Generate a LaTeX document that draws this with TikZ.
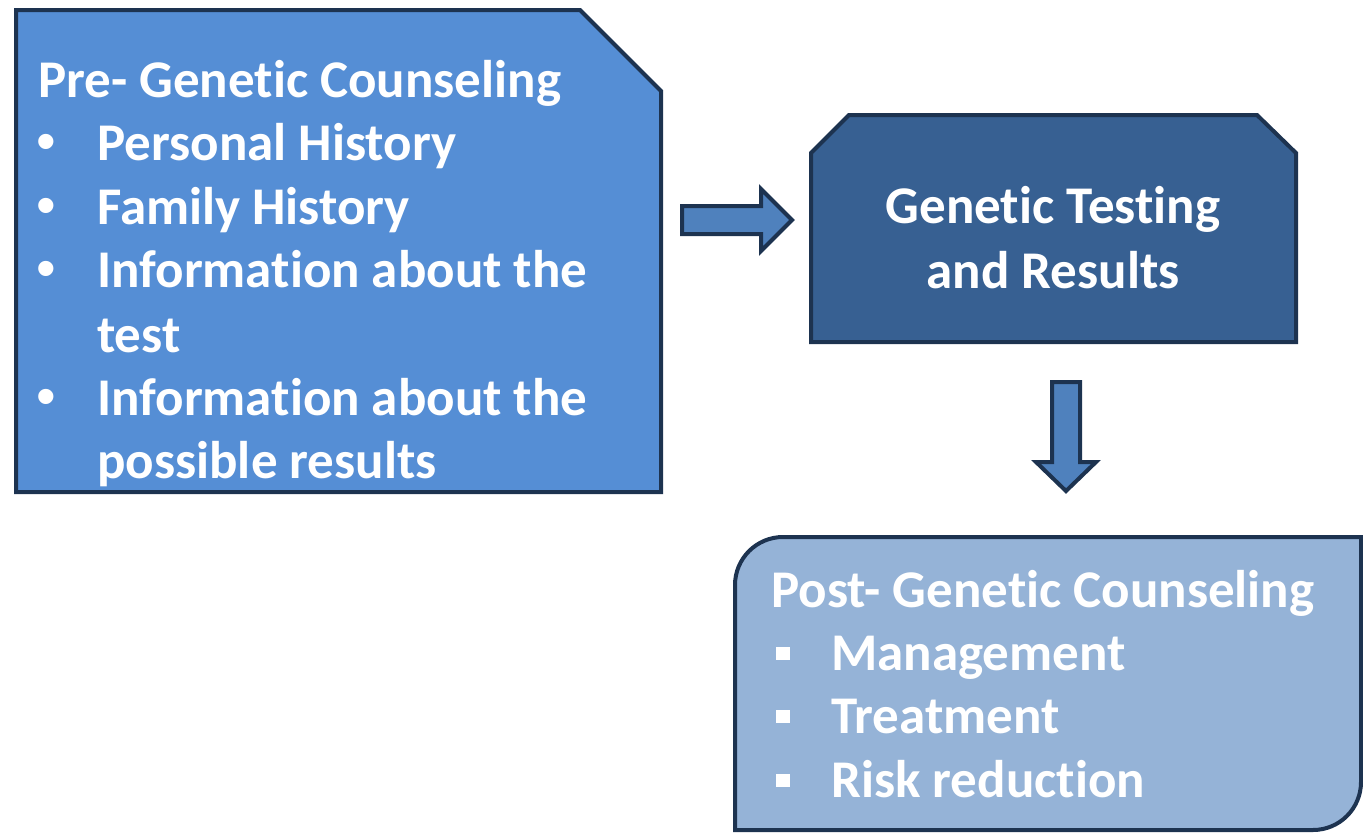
\documentclass[tikz,border=0pt]{standalone}
\usepackage{fontspec}
\setmainfont{Carlito}[Ligatures={NoCommon}]
\newfontfamily\bulletfont{Liberation Sans}
\definecolor{edge}{HTML}{1D3350}
\definecolor{boxA}{HTML}{558ED5}
\definecolor{boxB}{HTML}{376092}
\definecolor{boxC}{HTML}{95B3D7}
\definecolor{arr}{HTML}{4F81BD}
\tikzset{
  shapeline/.style={draw=edge, line width=4pt, line join=miter},
  txt/.style={text=white, font=\fontsize{53}{60}\selectfont\bfseries, inner sep=0pt, anchor=base west},
  ctxt/.style={text=white, font=\fontsize{53}{60}\selectfont\bfseries, inner sep=0pt, anchor=base},
  bul/.style={text=white, font=\fontsize{56}{60}\selectfont\bulletfont, inner sep=0pt, anchor=base west},
  blockarrow/.style={fill=arr, draw=edge, line width=4pt, line join=miter},
}
\begin{document}
\begin{tikzpicture}[x=1pt,y=-1pt]
\useasboundingbox (0,0) rectangle (1363,833);
% Box 1
\draw[shapeline, fill=boxA] (16,10) -- (580,10) -- (661,91) -- (661,492) -- (16,492) -- cycle;
\node[txt] (pre) at (38,97) {Pre- Genetic Counseling};
\foreach \y/\t [count=\i] in {160/Personal History, 224/Family History, 287/Information about the, 415/Information about the}{
  \node[bul] (b\i) at (36,\y) {•};
  \node[txt] (l\i) at (97,\y) {\t};
}
\node[txt] (l5) at (97,352) {test};
\node[txt] (l6) at (97,478) {possible results};
% Box 2
\draw[shapeline, fill=boxB] (811,153) -- (849,115) -- (1257,115) -- (1296,153) -- (1296,342) -- (811,342) -- cycle;
\node[ctxt] (g1) at (1053,223) {Genetic Testing};
\node[ctxt] (g2) at (1053,288) {and Results};
% Box 3
\draw[shapeline, fill=boxC] (735,830) -- (735,585) arc[start angle=180, end angle=270, radius=48] -- (1361,537) -- (1361,782) arc[start angle=0, end angle=90, radius=48] -- cycle;
\node[txt] (post) at (771,607) {Post- Genetic Counseling};
\foreach \y/\t [count=\i] in {670/Management, 733/Treatment, 797/Risk reduction}{
  \fill[white] (776,\y-23) rectangle (790,\y-10);
  \node[txt] (m\i) at (831,\y) {\t};
}
% Block arrows
\draw[blockarrow] (682,206) -- (761,206) -- (761,189) -- (792,220) -- (761,251) -- (761,234) -- (682,234) -- cycle;
\draw[blockarrow] (1052,382) -- (1080,382) -- (1080,462) -- (1096,462) -- (1066,491) -- (1036,462) -- (1052,462) -- cycle;
\end{tikzpicture}
\end{document}
